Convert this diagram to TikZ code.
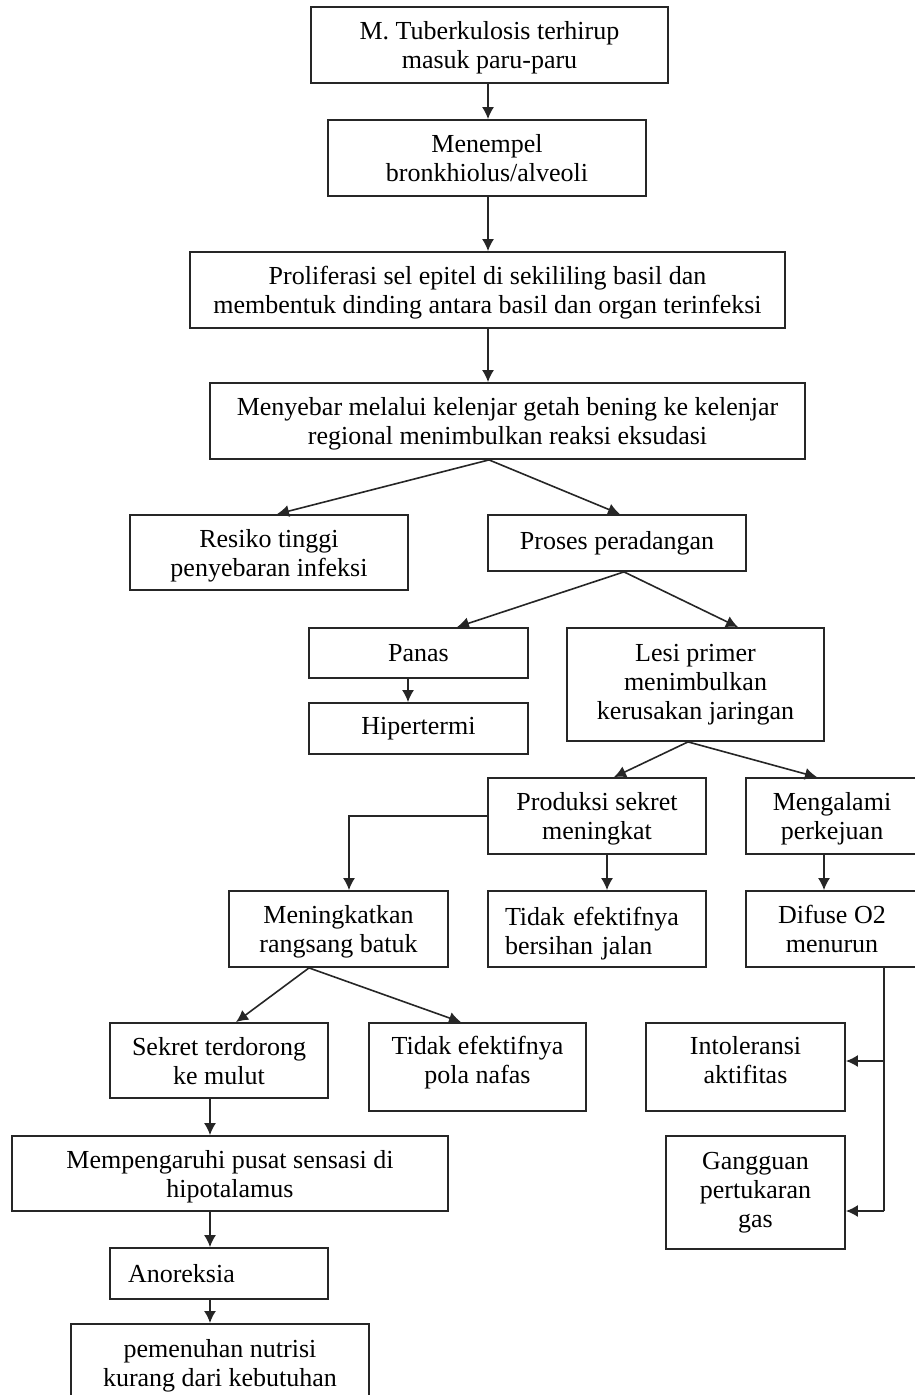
\documentclass[tikz,border=0pt]{standalone}
\usepackage{fontspec}
\setmainfont{Liberation Serif}
\usetikzlibrary{arrows.meta}
\definecolor{ink}{HTML}{262626}
\tikzset{
  box/.style={draw=ink, line width=1.8pt, fill=white, inner sep=0pt, align=center, text=black,
    font=\fontsize{26}{29}\selectfont, text depth=0pt},
  descbox/.style={box, text depth=5.6pt},
  arr/.style={draw=ink, line width=1.6pt, -{Latex[length=12pt,width=12pt]}},
}
\begin{document}
\begin{tikzpicture}[x=1pt,y=-1pt]
\useasboundingbox (0,0) rectangle (915,1395);
\fill[white] (0,0) rectangle (915,1395);
% boxes: center, width, height
\node[box, minimum width=357pt, minimum height=76pt] (b1) at (489.5,45) {M. Tuberkulosis terhirup\\masuk paru-paru};
\node[box, minimum width=318pt, minimum height=76pt] (b2) at (487,158) {Menempel\\bronkhiolus/alveoli};
\node[box, minimum width=595pt, minimum height=76pt] (b3) at (487.5,290) {Proliferasi sel epitel di sekililing basil dan\\membentuk dinding antara basil dan organ terinfeksi};
\node[box, minimum width=595pt, minimum height=76pt] (b4) at (507.5,421) {Menyebar melalui kelenjar getah bening ke kelenjar\\regional menimbulkan reaksi eksudasi};
\node[box, minimum width=278pt, minimum height=75pt] (resiko) at (269,552.5) {Resiko tinggi\\penyebaran infeksi};
\node[descbox, minimum width=258pt, minimum height=56pt] (proses) at (617,543) {Proses peradangan};
\node[box, minimum width=219pt, minimum height=50pt] (panas) at (418.5,653) {Panas};
\node[descbox, minimum width=219pt, minimum height=51pt] (hiper) at (418.5,728.5) {Hipertermi};
\node[descbox, minimum width=257pt, minimum height=113pt] (lesi) at (695.5,684.5) {Lesi primer\\menimbulkan\\kerusakan jaringan};
\node[box, minimum width=218pt, minimum height=76pt] (produksi) at (597,816) {Produksi sekret\\meningkat};
\node[box, minimum width=172pt, minimum height=76pt] (mengalami) at (832,816) {Mengalami\\perkejuan};
\node[box, minimum width=219pt, minimum height=76pt] (batuk) at (338.5,929) {Meningkatkan\\rangsang batuk};
\node[box, minimum width=218pt, minimum height=76pt, align=left, text width=184pt, text depth=26pt] (bersih) at (597,929) {Tidak efektifnya\\bersihan jalan};
\node[box, minimum width=172pt, minimum height=76pt] (difuse) at (832,929) {Difuse O2\\menurun};
\node[box, minimum width=218pt, minimum height=75pt] (sekret) at (219,1060.5) {Sekret terdorong\\ke mulut};
\node[box, minimum width=217pt, minimum height=88pt, text depth=14pt] (pola) at (477.5,1067) {Tidak efektifnya\\pola nafas};
\node[box, minimum width=199pt, minimum height=88pt, text depth=14pt] (intol) at (745.5,1067) {Intoleransi\\aktifitas};
\node[descbox, minimum width=179pt, minimum height=113pt] (gangguan) at (755.5,1192.5) {Gangguan\\pertukaran\\gas};
\node[box, minimum width=436pt, minimum height=75pt] (mempeng) at (230,1173.5) {Mempengaruhi pusat sensasi di\\hipotalamus};
\node[box, minimum width=218pt, minimum height=51pt, align=left, text width=182pt] (anor) at (219,1273.5) {Anoreksia};
\node[box, minimum width=298pt, minimum height=87pt, anchor=north] (pemenuhan) at (220,1323) {};
\node[font=\fontsize{26}{29}\selectfont, align=center, anchor=north] (pemtext) at (220,1336) {pemenuhan nutrisi\\kurang dari kebutuhan};
% column coordinates
\coordinate (xa) at (488,0);
\coordinate (xb) at (489,0);
\coordinate (xr) at (277,0);
\coordinate (xp) at (620,0);
\coordinate (xq) at (624,0);
\coordinate (xpa) at (457,0);
\coordinate (xl) at (738,0);
\coordinate (xh) at (408,0);
\coordinate (xle) at (688,0);
\coordinate (xpr) at (614,0);
\coordinate (xme) at (817,0);
\coordinate (xm) at (349,0);
\coordinate (xt) at (607,0);
\coordinate (xd) at (824,0);
\coordinate (xbt) at (309,0);
\coordinate (xs) at (236,0);
\coordinate (xpo) at (461,0);
\coordinate (xdv) at (884,0);
\coordinate (xc) at (210,0);
\coordinate (yi) at (0,1061);
\coordinate (yg) at (0,1211);
\coordinate (yp) at (0,816);
% connectors
\draw[arr] (b1.south -| xa) -- (b2.north -| xa);
\draw[arr] (b2.south -| xa) -- (b3.north -| xa);
\draw[arr] (b3.south -| xa) -- (b4.north -| xa);
\draw[arr] (b4.south -| xb) -- (resiko.north -| xr);
\draw[arr] (b4.south -| xb) -- (proses.north -| xp);
\draw[arr] (proses.south -| xq) -- (panas.north -| xpa);
\draw[arr] (proses.south -| xq) -- (lesi.north -| xl);
\draw[arr] (panas.south -| xh) -- (hiper.north -| xh);
\draw[arr] (lesi.south -| xle) -- (produksi.north -| xpr);
\draw[arr] (lesi.south -| xle) -- (mengalami.north -| xme);
\draw[arr] (produksi.west |- yp) -| (batuk.north -| xm);
\draw[arr] (produksi.south -| xt) -- (bersih.north -| xt);
\draw[arr] (mengalami.south -| xd) -- (difuse.north -| xd);
\draw[arr] (batuk.south -| xbt) -- (sekret.north -| xs);
\draw[arr] (batuk.south -| xbt) -- (pola.north -| xpo);
\draw[draw=ink, line width=1.6pt] (difuse.south -| xdv) -- (xdv |- yg);
\draw[arr] (xdv |- yi) -- (intol.east |- yi);
\draw[arr] (xdv |- yg) -- (gangguan.east |- yg);
\draw[arr] (sekret.south -| xc) -- (mempeng.north -| xc);
\draw[arr] (mempeng.south -| xc) -- (anor.north -| xc);
\draw[arr] (anor.south -| xc) -- (pemenuhan.north -| xc);
\end{tikzpicture}
\end{document}
